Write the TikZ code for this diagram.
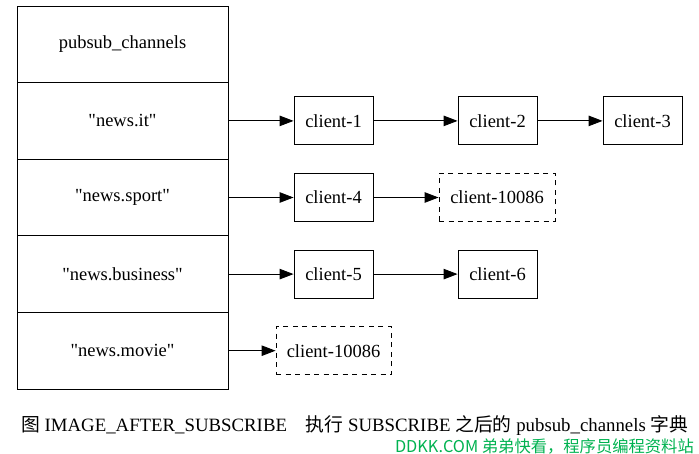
\documentclass[tikz,border=0pt]{standalone}
\usepackage{fontspec}
\setmainfont{Liberation Serif}[Ligatures=TeXOff]
\newfontfamily\cjk{Noto Sans CJK SC}
\usetikzlibrary{arrows.meta}
\definecolor{wmgreen}{RGB}{0,178,80}
\tikzset{
  cell/.style={draw, line width=0.9pt, minimum width=211pt, minimum height=76.6pt, inner sep=0pt, font=\fontsize{18.5}{21}\selectfont},
  client/.style={draw, line width=0.9pt, minimum width=79pt, minimum height=48pt, inner sep=0pt, font=\fontsize{18.5}{21}\selectfont},
  dclient/.style={client, dash pattern=on 5pt off 4.5pt, minimum width=116pt},
  link/.style={line width=0.9pt, -{Triangle[length=14pt,width=10.5pt]}}
}
\begin{document}
\begin{tikzpicture}[x=1pt,y=1pt]
\useasboundingbox (0,0) rectangle (699,-454);
\node[cell] (t0) at (122.5,-44.3) {pubsub\_channels};
\node[cell] (t1) at (122.5,-120.9) {"news.it"};
\node[cell] (t2) at (122.5,-197.5) {"news.sport"};
\node[cell] (t3) at (122.5,-274.1) {"news.business"};
\node[cell] (t4) at (122.5,-350.7) {"news.movie"};

\node[client] (c1) at (333.5,-120.9) {client-1};
\node[client] (c2) at (497.5,-120.9) {client-2};
\node[client] (c3) at (642.5,-120.9) {client-3};
\node[client] (c4) at (333.5,-197.5) {client-4};
\node[dclient] (c10086a) at (497,-197.5) {client-10086};
\node[client] (c5) at (333.5,-274.1) {client-5};
\node[client] (c6) at (497.5,-274.1) {client-6};
\node[dclient, minimum width=115pt] (c10086b) at (333.5,-350.7) {client-10086};

\draw[link] (t1.east) -- (c1.west);
\draw[link] (c1.east) -- (c2.west);
\draw[link] (c2.east) -- (c3.west);
\draw[link] (t2.east) -- (c4.west);
\draw[link] (c4.east) -- (c10086a.west);
\draw[link] (t3.east) -- (c5.west);
\draw[link] (c5.east) -- (c6.west);
\draw[link] (t4.east) -- (c10086b.west);

\node[anchor=west, inner sep=0pt, font=\fontsize{18.8}{21}\selectfont] (cap) at (21,-426)
  {{\cjk 图} IMAGE\_AFTER\_SUBSCRIBE\quad{\cjk 执行} SUBSCRIBE {\cjk 之后的} pubsub\_channels {\cjk 字典}};
\node[anchor=east, inner sep=0pt, text=wmgreen, font=\cjk\fontsize{16.3}{18}\selectfont] (wm) at (694,-446)
  {DDKK.COM 弟弟快看，程序员编程资料站};
\end{tikzpicture}
\end{document}
